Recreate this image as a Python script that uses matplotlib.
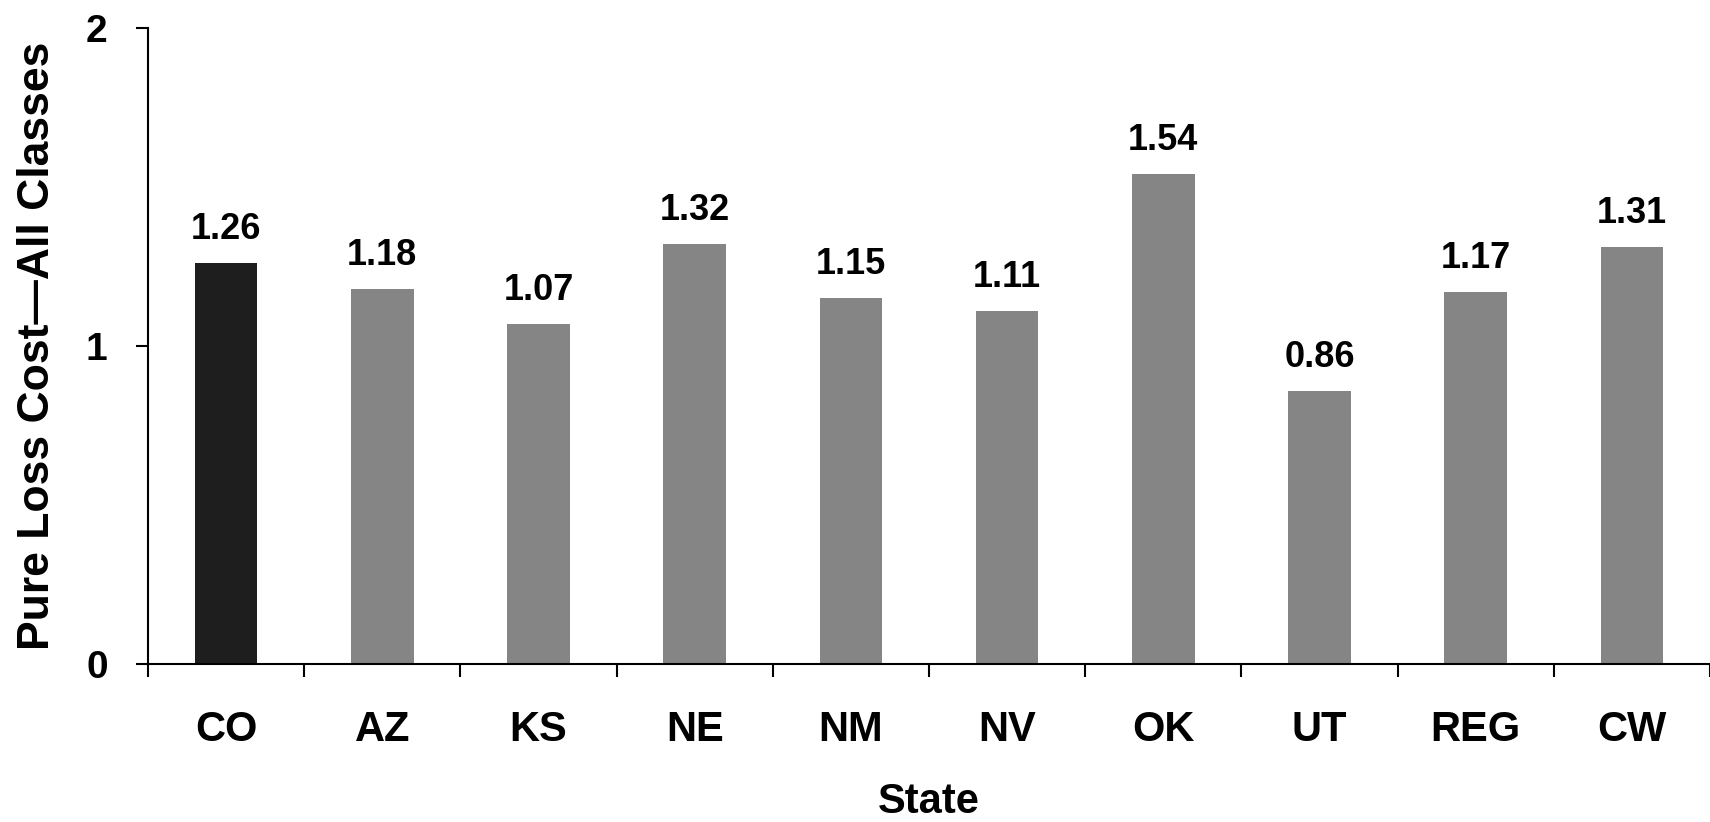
import matplotlib
matplotlib.use("Agg")
import matplotlib.pyplot as plt
import numpy as np

states = ["CO", "AZ", "KS", "NE", "NM", "NV", "OK", "UT", "REG", "CW"]
values = [1.26, 1.18, 1.07, 1.32, 1.15, 1.11, 1.54, 0.86, 1.17, 1.31]
value_labels = ["1.26", "1.18", "1.07", "1.32", "1.15", "1.11", "1.54", "0.86", "1.17", "1.31"]
y_ticks = [0, 1, 2]
y_tick_labels = ["0", "1", "2"]

plt.rcParams['font.family'] = ['Liberation Sans', 'DejaVu Sans']
plt.rcParams['font.weight'] = 'bold'

W, H = 1710, 822
fig = plt.figure(figsize=(W / 100, H / 100), dpi=100)
left_px, right_px, top_px, bottom_px = 148, 1710, 28, 664
ax = fig.add_axes([left_px / W, (H - bottom_px) / H, (right_px - left_px) / W, (bottom_px - top_px) / H])

x = np.arange(len(states))
colors = ['#1e1e1e'] + ['#858585'] * (len(states) - 1)
ax.bar(x, values, width=0.4, color=colors, edgecolor='none', zorder=2)

for xi, v, lab in zip(x, values, value_labels):
    ax.annotate(lab, (xi, v), xytext=(0, 16), textcoords='offset pixels',
                ha='center', va='bottom', fontsize=26, fontweight='bold')

cat_w = 157.3
ax.set_xlim(-0.5, -0.5 + (right_px - left_px) / cat_w)
ax.set_ylim(0, 2)

ax.set_yticks(y_ticks)
ax.set_yticklabels(y_tick_labels, fontsize=28, fontweight='bold')
ax.set_xticks(x)
ax.set_xticklabels(states, fontsize=30, fontweight='bold')
ax.set_xticks(np.arange(len(states) + 1) - 0.5, minor=True)

ax.tick_params(axis='x', which='major', length=0, pad=33)
ax.tick_params(axis='x', which='minor', length=9, width=1.5, direction='out')
ax.tick_params(axis='y', which='major', length=9, width=1.5, direction='out', pad=20)

for s in ['top', 'right']:
    ax.spines[s].set_visible(False)
for s in ['left', 'bottom']:
    ax.spines[s].set_linewidth(1.5)
    ax.spines[s].set_color('black')

ax.set_xlabel("State", fontsize=30, fontweight='bold', labelpad=23)
ax.set_ylabel("Pure Loss Cost\u2014All Classes", fontsize=32, fontweight='bold', labelpad=20)

fig.savefig("out.png", dpi=100)
